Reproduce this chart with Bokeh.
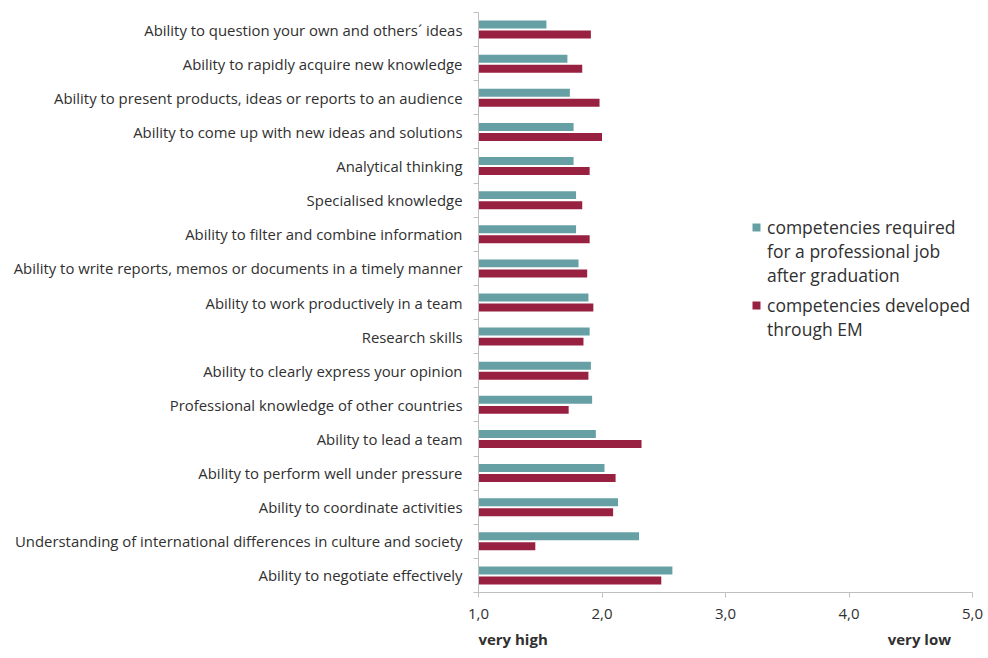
import numpy as np
from bokeh.plotting import figure
from bokeh.models import (ColumnDataSource, Range1d, LinearAxis, FixedTicker, Legend, LegendItem)
from bokeh.transform import dodge
from bokeh.embed import file_html
from bokeh.resources import INLINE

categories = [
    "Ability to question your own and others\u00b4 ideas",
    "Ability to rapidly acquire new knowledge",
    "Ability to present products, ideas or reports to an audience",
    "Ability to come up with new ideas and solutions",
    "Analytical thinking",
    "Specialised knowledge",
    "Ability to filter and combine information",
    "Ability to write reports, memos or documents in a timely manner",
    "Ability to work productively in a team",
    "Research skills",
    "Ability to clearly express your opinion",
    "Professional knowledge of other countries",
    "Ability to lead a team",
    "Ability to perform well under pressure",
    "Ability to coordinate activities",
    "Understanding of international differences in culture and society",
    "Ability to negotiate effectively",
]
required = [1.55, 1.72, 1.74, 1.77, 1.77, 1.79, 1.79, 1.81, 1.89, 1.90, 1.91, 1.92, 1.95, 2.02, 2.13, 2.30, 2.57]
developed = [1.91, 1.84, 1.98, 2.00, 1.90, 1.84, 1.90, 1.88, 1.93, 1.85, 1.89, 1.73, 2.32, 2.11, 2.09, 1.46, 2.48]
x_ticks = [1, 2, 3, 4, 5]
x_tick_labels = ["1,0", "2,0", "3,0", "4,0", "5,0"]
series_lines = [["competencies required", "for a professional job", "after graduation"],
                ["competencies developed", "through EM"]]
end_labels = ["very high", "very low"]
end_label_pos = [1.28, 4.57]

TEAL = "#67a0a4"
RED = "#982040"
FONT = "Open Sans"
TXT = "#303030"
AXIS = "#bfbfbf"

n = len(categories)
pos = n - np.arange(n) - 0.5  # category centres, top to bottom

src = ColumnDataSource(dict(pos=pos, cat=categories, req=required, dev=developed))

p = figure(width=988, height=658, output_backend="svg", toolbar_location=None,
           y_range=Range1d(0, n), x_range=Range1d(x_ticks[0], x_ticks[-1]),
           y_axis_location=None, x_axis_location="below",
           min_border_left=478, min_border_right=16, min_border_top=12, min_border_bottom=66)
p.outline_line_color = None
p.xgrid.visible = False
p.ygrid.visible = False

r1 = p.hbar(y=dodge("pos", 0.147), left=x_ticks[0], right="req", height=0.234,
            source=src, fill_color=TEAL, line_color=None)
r2 = p.hbar(y=dodge("pos", -0.147), left=x_ticks[0], right="dev", height=0.234,
            source=src, fill_color=RED, line_color=None)
# invisible renderer used for continuation lines of the legend labels
blank = p.hbar(y=[], right=[], height=0.2, fill_alpha=0, line_alpha=0)

# category axis: labels at centres, minor ticks at category boundaries
cat_ax = LinearAxis(ticker=FixedTicker(ticks=list(pos), minor_ticks=list(range(n + 1))))
cat_ax.major_label_overrides = {float(y): c for y, c in zip(pos, categories)}
cat_ax.axis_line_color = AXIS
cat_ax.major_tick_line_color = None
cat_ax.major_tick_out = 5
cat_ax.major_tick_in = 0
cat_ax.minor_tick_line_color = AXIS
cat_ax.minor_tick_out = 5
cat_ax.minor_tick_in = 0
cat_ax.major_label_standoff = 11
cat_ax.major_label_text_font = FONT
cat_ax.major_label_text_font_size = "14.9px"
cat_ax.major_label_text_color = TXT
p.add_layout(cat_ax, "left")

xa = p.xaxis[0]
xa.ticker = FixedTicker(ticks=x_ticks)
xa.major_label_overrides = {t: l for t, l in zip(x_ticks, x_tick_labels)}
xa.axis_line_color = AXIS
xa.major_tick_line_color = AXIS
xa.major_tick_out = 5
xa.major_tick_in = 0
xa.minor_tick_line_color = None
xa.major_label_standoff = 11
xa.major_label_text_font = FONT
xa.major_label_text_font_size = "15px"
xa.major_label_text_color = TXT

# "very high" / "very low" row under the tick labels
ea = LinearAxis(ticker=FixedTicker(ticks=end_label_pos))
ea.major_label_overrides = {t: l for t, l in zip(end_label_pos, end_labels)}
ea.axis_line_color = None
ea.major_tick_line_color = None
ea.minor_tick_line_color = None
ea.major_tick_out = 0
ea.major_tick_in = 0
ea.major_label_standoff = 7
ea.major_label_text_font = FONT
ea.major_label_text_font_size = "15px"
ea.major_label_text_font_style = "bold"
ea.major_label_text_color = TXT
p.add_layout(ea, "below")


def make_legend(lines, renderer, loc):
    items = [LegendItem(label=lines[0], renderers=[renderer])]
    items += [LegendItem(label=t, renderers=[blank]) for t in lines[1:]]
    lg = Legend(items=items, location=loc, orientation="vertical")
    lg.label_text_font = FONT
    lg.label_text_font_size = "17.5px"
    lg.label_text_color = TXT
    lg.label_height = 23
    lg.glyph_width = 10
    lg.glyph_height = 10
    lg.label_standoff = 6
    lg.spacing = 0
    lg.padding = 0
    lg.margin = 0
    lg.border_line_color = None
    lg.background_fill_alpha = 0
    lg.click_policy = "none"
    return lg


p.add_layout(make_legend(series_lines[0], r1, (273, 305)))
p.add_layout(make_legend(series_lines[1], r2, (273, 251)))

open("out.html", "w").write(file_html(p, INLINE))
